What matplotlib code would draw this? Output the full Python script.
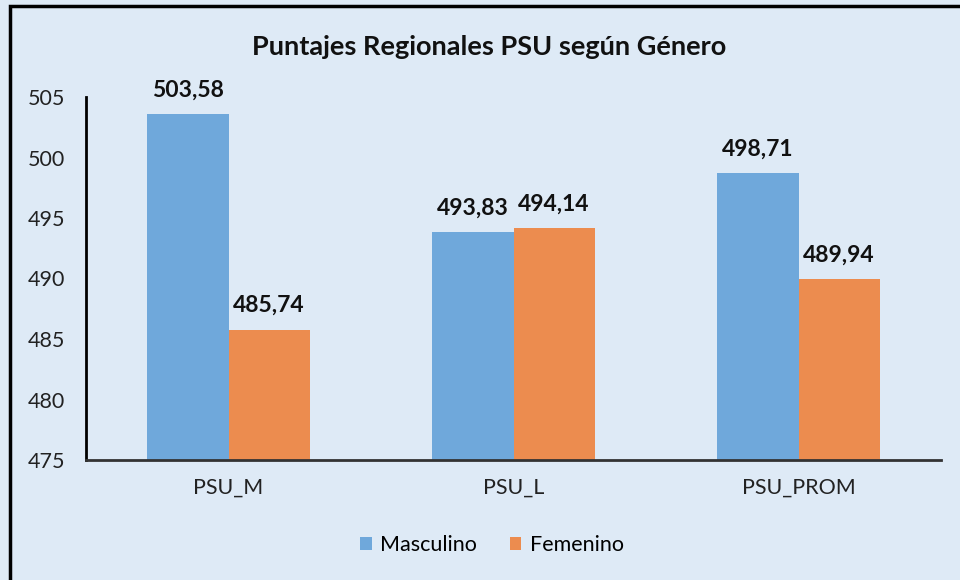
import matplotlib
matplotlib.use("Agg")
import matplotlib.pyplot as plt
import numpy as np
from matplotlib.patches import Rectangle

categories = ["PSU_M", "PSU_L", "PSU_PROM"]
masculino = [503.58, 493.83, 498.71]
femenino = [485.74, 494.14, 489.94]
series_names = ["Masculino", "Femenino"]
yticks = [475, 480, 485, 490, 495, 500, 505]

plt.rcParams['font.family'] = ['Lato', 'DejaVu Sans']

bg = "#DEEAF6"
c_blue = "#6FA8DB"
c_orange = "#EC8C4F"

fig = plt.figure(figsize=(9.6, 5.8), dpi=100, facecolor=bg)
ax = fig.add_axes([86/960, 1-460/580, (941-86)/960, (460-97)/580])
ax.set_facecolor(bg)

x = np.arange(len(categories))
w = 0.285
b1 = ax.bar(x - w/2, masculino, w, color=c_blue, label=series_names[0])
b2 = ax.bar(x + w/2, femenino, w, color=c_orange, label=series_names[1])
ax.set_ylim(475, 505)
ax.set_xlim(-0.5, 2.5)
ax.set_yticks(yticks)
ax.set_yticklabels([str(t) for t in yticks])
ax.set_xticks(x)
ax.set_xticklabels(categories)
ax.tick_params(axis='both', length=0, labelsize=15.5, colors="#222222")
ax.tick_params(axis='y', pad=15)
ax.tick_params(axis='x', pad=13)
for s in ["top", "right"]:
    ax.spines[s].set_visible(False)
ax.spines["left"].set_linewidth(2)
ax.spines["bottom"].set_linewidth(2)
ax.spines["bottom"].set_color("#333333")

def fmt(v):
    return f"{v:.2f}".replace(".", ",")

for bars, vals in [(b1, masculino), (b2, femenino)]:
    for rect, v in zip(bars, vals):
        ax.annotate(fmt(v), (rect.get_x() + rect.get_width()/2, v),
                    xytext=(0, 10), textcoords="offset points",
                    ha="center", va="bottom", fontsize=16.5, fontweight="bold",
                    color="#111111", annotation_clip=False)

fig.text(489/960, 1-47/580, "Puntajes Regionales PSU según Género",
         ha="center", va="center", fontsize=19.5, fontweight="bold", color="#111111")

leg = fig.legend(handles=[b1, b2], labels=series_names, loc="center",
                 bbox_to_anchor=(492/960, 1-545/580), ncol=2, frameon=False,
                 fontsize=15.5, handlelength=0.55, handleheight=0.55,
                 handletextpad=0.4, columnspacing=1.5)

fig.patches.append(Rectangle((10/960, -0.05), 1, 1.05-6/580, transform=fig.transFigure,
                             fill=False, edgecolor="black", linewidth=2.5))

fig.savefig("out.png", dpi=100, facecolor=bg)
